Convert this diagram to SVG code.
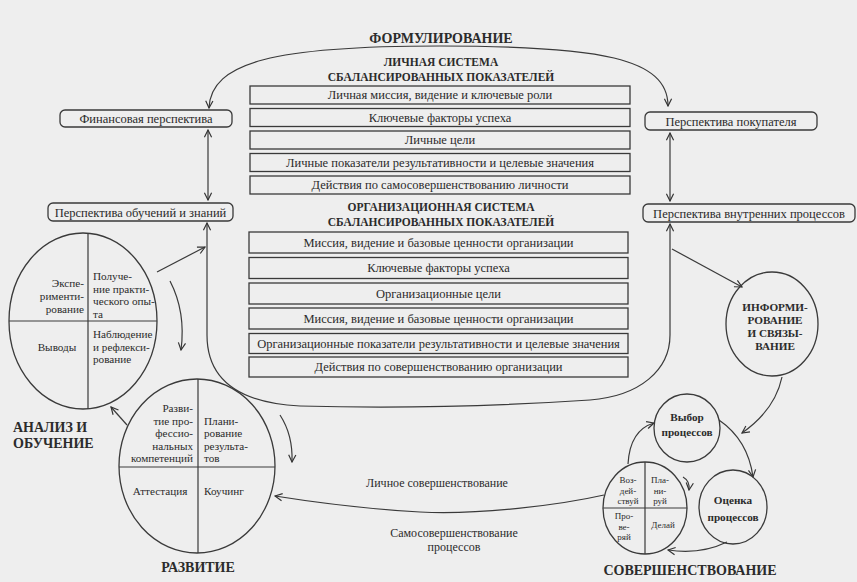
<svg xmlns="http://www.w3.org/2000/svg" width="857" height="582" viewBox="0 0 857 582">
<defs>
<marker id="ah" viewBox="0 0 10 10" refX="9" refY="5" markerWidth="9" markerHeight="9" markerUnits="userSpaceOnUse" orient="auto-start-reverse">
<path d="M1,1 L9,5 L1,9" fill="none" stroke="#333" stroke-width="1.3"/>
</marker>
<style>
text{font-family:'Liberation Serif','DejaVu Serif',serif;fill:#2b2b2b}
.bx{fill:none;stroke:#3a3a3a;stroke-width:1.3}
.rb{fill:none;stroke:#3a3a3a;stroke-width:1.3}
.c{fill:none;stroke:#3a3a3a;stroke-width:1.3}
.ln{fill:none;stroke:#3a3a3a;stroke-width:1.2}
.t{font-size:12.5px;text-anchor:middle}
.h{font-size:11.5px;font-weight:bold;text-anchor:middle}
.big{font-size:14px;font-weight:bold}
.ct{font-size:11.2px}
.e{text-anchor:end}
.m{text-anchor:middle}
.sm{font-size:9px;text-anchor:middle}
.cb{font-size:11.2px;font-weight:bold;text-anchor:middle}
.lb{font-size:12px;text-anchor:middle}
.a{fill:none;stroke:#3a3a3a;stroke-width:1.2;marker-end:url(#ah)}
.a2{fill:none;stroke:#3a3a3a;stroke-width:1.2;marker-end:url(#ah);marker-start:url(#ah)}
</style>
</defs>
<rect width="857" height="582" fill="#eeeeee"/>

<g id="connectors">
<path class="a2" d="M209,108 C211,62 275,46 440,46 C600,46 668,58 668,106"/>
<path class="a2" d="M208,130 V200"/>
<path class="a2" d="M670,133 V201"/>
<path class="a2" d="M207,223 V335 C207,380 240,403 300,406 Q440,410 590,400 C640,396 670,370 670,335 V224"/>
<path class="a" d="M157,272 L205,247"/>
<path class="a" d="M170,281 Q186,312 181,350"/>
<path class="a" d="M127,425 L111,407"/>
<path class="a" d="M280,415 Q293,435 292,462"/>
<path class="a" d="M604,495 C560,505 480,515 420,512 C350,508 300,500 275,496"/>
<path class="a" d="M672,249 L742,287"/>
<path class="a" d="M782,377 Q775,410 742,433"/>
<path class="a" d="M719,420 Q748,440 753,477"/>
<path class="a" d="M727,542 Q700,555 668,550"/>
<path class="a" d="M628,464 Q630,430 654,423"/>
<path class="a" d="M683,477 Q690,481 689,490"/>
</g>

<g id="formulation" font-family="'Liberation Serif', serif">
<text class="big m" x="441" y="43">ФОРМУЛИРОВАНИЕ</text>
</g>

<g id="personal-bsc" font-family="'Liberation Serif', serif">
<text class="h" x="441" y="66">ЛИЧНАЯ СИСТЕМА</text>
<text class="h" x="441" y="81">СБАЛАНСИРОВАННЫХ ПОКАЗАТЕЛЕЙ</text>
<rect class="bx" x="250" y="86" width="380" height="18"/>
<text class="t" x="440" y="99">Личная миссия, видение и ключевые роли</text>
<rect class="bx" x="250" y="108.5" width="380" height="18"/>
<text class="t" x="440" y="121.5">Ключевые факторы успеха</text>
<rect class="bx" x="250" y="131" width="380" height="18"/>
<text class="t" x="440" y="144">Личные цели</text>
<rect class="bx" x="250" y="153.5" width="380" height="18"/>
<text class="t" x="440" y="166.5">Личные показатели результативности и целевые значения</text>
<rect class="bx" x="250" y="176" width="380" height="18"/>
<text class="t" x="440" y="189">Действия по самосовершенствованию личности</text>
</g>

<g id="org-bsc" font-family="'Liberation Serif', serif">
<text class="h" x="441" y="211">ОРГАНИЗАЦИОННАЯ СИСТЕМА</text>
<text class="h" x="441" y="226">СБАЛАНСИРОВАННЫХ ПОКАЗАТЕЛЕЙ</text>
<rect class="bx" x="249" y="232" width="379" height="21"/>
<text class="t" x="438.5" y="246.5">Миссия, видение и базовые ценности организации</text>
<rect class="bx" x="249" y="257.5" width="379" height="21"/>
<text class="t" x="438.5" y="272">Ключевые факторы успеха</text>
<rect class="bx" x="249" y="283" width="379" height="21"/>
<text class="t" x="438.5" y="297.5">Организационные цели</text>
<rect class="bx" x="249" y="308" width="379" height="21"/>
<text class="t" x="438.5" y="322.5">Миссия, видение и базовые ценности организации</text>
<rect class="bx" x="249" y="333.5" width="379" height="20"/>
<text class="t" x="438.5" y="347.5">Организационные показатели результативности и целевые значения</text>
<rect class="bx" x="249" y="357" width="379" height="20"/>
<text class="t" x="438.5" y="371">Действия по совершенствованию организации</text>
</g>

<g id="financial" font-family="'Liberation Serif', serif">
<rect class="rb" x="60" y="110" width="172" height="17" rx="5"/>
<text class="t" x="146" y="122.5">Финансовая перспектива</text>
</g>
<g id="learning" font-family="'Liberation Serif', serif">
<rect class="rb" x="48" y="203" width="185" height="18" rx="5"/>
<text class="t" x="140.5" y="216.5">Перспектива обучений и знаний</text>
</g>
<g id="customer" font-family="'Liberation Serif', serif">
<rect class="rb" x="645" y="112" width="172" height="18" rx="5"/>
<text class="t" x="731" y="125.5">Перспектива покупателя</text>
</g>
<g id="internal" font-family="'Liberation Serif', serif">
<rect class="rb" x="643" y="204" width="212" height="18" rx="5"/>
<text class="t" x="749" y="217.5">Перспектива внутренних процессов</text>
</g>

<g id="analysis" font-family="'Liberation Serif', serif">
<ellipse class="c" cx="83" cy="321" rx="74" ry="88"/>
<line class="ln" x1="88" y1="233" x2="88" y2="409"/>
<line class="ln" x1="9" y1="321" x2="157" y2="321"/>
<text class="ct e" x="84" y="287">Экспе-</text>
<text class="ct e" x="84" y="300">рименти-</text>
<text class="ct e" x="84" y="313">рование</text>
<text class="ct" x="93" y="280">Получе-</text>
<text class="ct" x="93" y="292.5">ние практи-</text>
<text class="ct" x="93" y="305">ческого опы-</text>
<text class="ct" x="93" y="317.5">та</text>
<text class="ct m" x="57" y="351">Выводы</text>
<text class="ct" x="93" y="338">Наблюдение</text>
<text class="ct" x="93" y="350.5">и рефлекси-</text>
<text class="ct" x="93" y="363">рование</text>
<text class="big" x="13" y="432">АНАЛИЗ И</text>
<text class="big" x="13" y="448">ОБУЧЕНИЕ</text>
</g>

<g id="development" font-family="'Liberation Serif', serif">
<ellipse class="c" cx="197" cy="466" rx="78" ry="87"/>
<line class="ln" x1="198" y1="379" x2="198" y2="553"/>
<line class="ln" x1="119" y1="467" x2="275" y2="467"/>
<text class="ct e" x="193" y="412">Разви-</text>
<text class="ct e" x="193" y="424.5">тие про-</text>
<text class="ct e" x="193" y="437">фессио-</text>
<text class="ct e" x="193" y="449.5">нальных</text>
<text class="ct e" x="193" y="462">компетенций</text>
<text class="ct" x="204" y="424.5">Плани-</text>
<text class="ct" x="204" y="437">рование</text>
<text class="ct" x="204" y="449.5">результа-</text>
<text class="ct" x="204" y="462">тов</text>
<text class="ct m" x="160" y="495">Аттестация</text>
<text class="ct" x="204" y="495">Коучинг</text>
<text class="big m" x="198" y="572">РАЗВИТИЕ</text>
</g>

<g id="informing" font-family="'Liberation Serif', serif">
<ellipse class="c" cx="772" cy="324" rx="46" ry="52"/>
<text class="cb" x="775" y="311">ИНФОРМИ-</text>
<text class="cb" x="775" y="324">РОВАНИЕ</text>
<text class="cb" x="775" y="337">И СВЯЗЫ-</text>
<text class="cb" x="775" y="350">ВАНИЕ</text>
</g>

<g id="select" font-family="'Liberation Serif', serif">
<ellipse class="c" cx="687" cy="428" rx="33" ry="34"/>
<text class="cb" x="687" y="421">Выбор</text>
<text class="cb" x="687" y="436">процессов</text>
</g>

<g id="evaluate" font-family="'Liberation Serif', serif">
<ellipse class="c" cx="733" cy="507" rx="34" ry="37"/>
<text class="cb" x="733" y="504">Оценка</text>
<text class="cb" x="733" y="521">процессов</text>
</g>

<g id="pdca" font-family="'Liberation Serif', serif">
<ellipse class="c" cx="645" cy="508" rx="42" ry="46"/>
<line class="ln" x1="645" y1="462" x2="645" y2="554"/>
<line class="ln" x1="603" y1="508" x2="687" y2="508"/>
<text class="sm" x="628" y="483">Воз-</text>
<text class="sm" x="628" y="493.5">дей-</text>
<text class="sm" x="628" y="504">ствуй</text>
<text class="sm" x="660" y="483">Пла-</text>
<text class="sm" x="660" y="493.5">ни-</text>
<text class="sm" x="660" y="504">руй</text>
<text class="sm" x="624" y="519">Про-</text>
<text class="sm" x="624" y="529.5">ве-</text>
<text class="sm" x="624" y="540">ряй</text>
<text class="sm" x="663" y="528">Делай</text>
<text class="big m" x="690" y="575">СОВЕРШЕНСТВОВАНИЕ</text>
</g>

<g id="labels" font-family="'Liberation Serif', serif">
<text class="lb" x="437" y="487">Личное совершенствование</text>
<text class="lb" x="454" y="537">Самосовершенствование</text>
<text class="lb" x="454" y="551">процессов</text>
</g>
</svg>
